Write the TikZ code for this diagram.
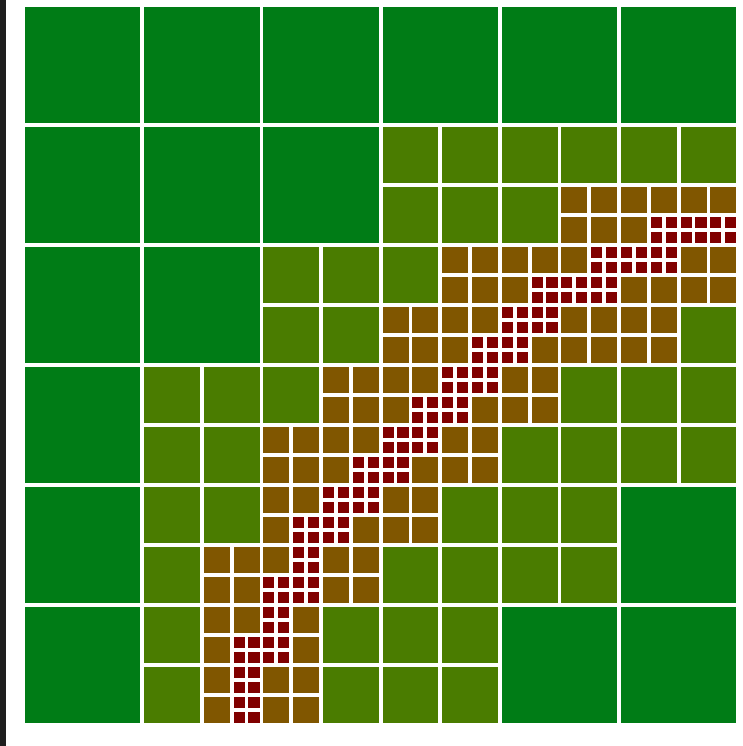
\documentclass[tikz,border=0pt]{standalone}
\usepackage{tikz}
\definecolor{leafgreen}{RGB}{0, 124, 22}
\definecolor{midolive}{RGB}{74, 124, 0}
\definecolor{finebrown}{RGB}{128, 86, 0}
\definecolor{finestred}{RGB}{128, 0, 0}
\definecolor{edgegray}{RGB}{30, 30, 30}

\begin{document}
\begin{tikzpicture}[x=1pt, y=-1pt, qcell/.style={draw=white, line width=3.8pt}]
    \useasboundingbox (0,0) rectangle (742,746);
    \fill[white] (0,0) rectangle (742,746);
    \fill[edgegray] (0,0) rectangle (5.5,746);

    % level 0: 6x6 coarse cells
    \foreach \c in {0,...,5}
        \foreach \r in {0,...,5}
            \filldraw[qcell, fill=leafgreen] ({23+\c*119.2},{5+\r*120}) rectangle +(119.2,120);

    % level 1: split coarse cells
    \foreach \c/\r in {3/1,4/1,5/1,2/2,3/2,4/2,5/2,1/3,2/3,3/3,4/3,5/3,1/4,2/4,3/4,4/4,1/5,2/5,3/5}
        \foreach \a in {0,1}
            \foreach \b in {0,1}
                \filldraw[qcell, fill=midolive] ({23+(2*\c+\a)*59.6},{5+(2*\r+\b)*60}) rectangle +(59.6,60);

    % level 2
    \foreach \i/\j in {9/3,10/3,11/3,7/4,8/4,9/4,10/4,11/4,6/5,7/5,8/5,9/5,10/5,5/6,6/6,7/6,8/6,4/7,5/7,6/7,7/7,4/8,5/8,6/8,3/9,4/9,5/9,3/10,4/10,3/11,4/11}
        \foreach \a in {0,1}
            \foreach \b in {0,1}
                \filldraw[qcell, fill=finebrown] ({23+(2*\i+\a)*29.8},{5+(2*\j+\b)*30}) rectangle +(29.8,30);

    % level 3: along the diagonal
    \foreach \p/\q in {21/7,22/7,23/7,19/8,20/8,21/8,17/9,18/9,19/9,16/10,17/10,15/11,16/11,14/12,15/12,13/13,14/13,12/14,13/14,11/15,12/15,10/16,11/16,9/17,10/17,9/18,8/19,9/19,8/20,7/21,8/21,7/22,7/23}
        \foreach \a in {0,1}
            \foreach \b in {0,1}
                \filldraw[qcell, fill=finestred] ({23+(2*\p+\a)*14.9},{5+(2*\q+\b)*15}) rectangle +(14.9,15);
\end{tikzpicture}
\end{document}
